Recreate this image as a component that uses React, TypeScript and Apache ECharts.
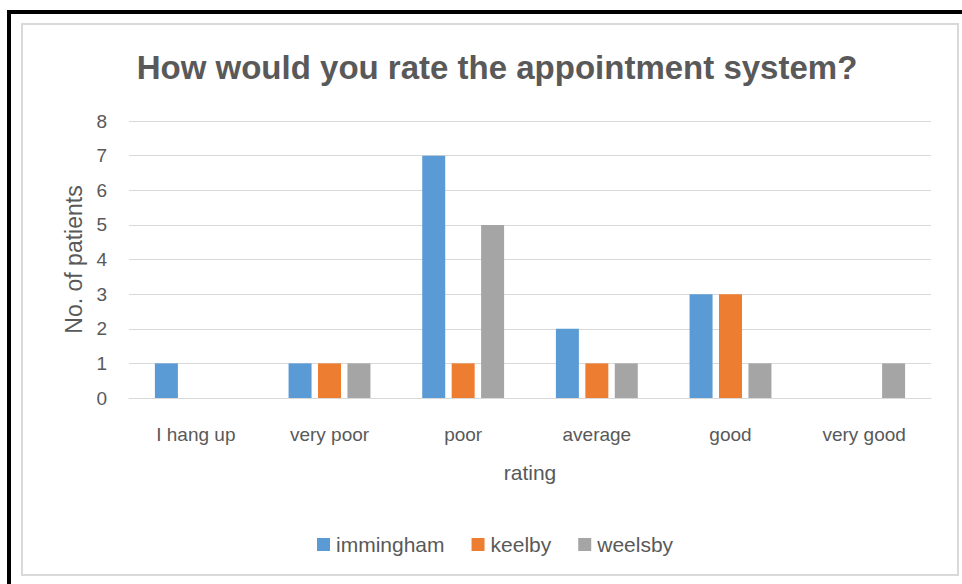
import React, { useEffect, useRef } from "react";
import * as echarts from "echarts";

const categories = ["I hang up", "very poor", "poor", "average", "good", "very good"];
const immingham = [1, 1, 7, 2, 3, null];
const keelby = [null, 1, 1, 1, 3, null];
const weelsby = [null, 1, 5, 1, 1, 1];
const seriesNames = ["immingham", "keelby", "weelsby"];
const colors = ["#5B9BD5", "#ED7D31", "#A5A5A5"];

const FONT = "'Liberation Sans', Arial, sans-serif";
const TEXT = "#595959";

export default function App() {
  const ref = useRef<HTMLDivElement>(null);
  useEffect(() => {
    if (!ref.current) return;
    const chart = echarts.init(ref.current, undefined, { renderer: "svg" });
    const data = [immingham, keelby, weelsby];
    chart.setOption({
      animation: false,
      backgroundColor: "#ffffff",
      textStyle: { fontFamily: FONT, color: TEXT },
      title: {
        text: "How would you rate the appointment system?",
        left: 492,
        textAlign: "center",
        top: 46,
        textStyle: { fontFamily: FONT, fontSize: 33, fontWeight: "bold", color: TEXT },
      },
      graphic: [
        { type: "rect", shape: { x: 22, y: 24, width: 936, height: 551 }, style: { fill: "none", stroke: "#D9D9D9", lineWidth: 2 }, silent: true },
        { type: "rect", shape: { x: 7, y: 10, width: 955, height: 4 }, style: { fill: "#000000" }, silent: true },
        { type: "rect", shape: { x: 7, y: 10, width: 4, height: 574 }, style: { fill: "#000000" }, silent: true },
      ],
      legend: {
        data: seriesNames,
        left: 312,
        top: 529,
        itemWidth: 13,
        itemHeight: 13,
        itemGap: 27,
        icon: "rect",
        textStyle: { fontFamily: FONT, fontSize: 21, color: TEXT, padding: [0, 0, 0, 1] },
      },
      grid: { left: 129, right: 31, top: 121, bottom: 186, containLabel: false },
      xAxis: {
        type: "category",
        data: categories,
        name: "rating",
        nameLocation: "middle",
        nameGap: 64,
        nameTextStyle: { fontFamily: FONT, fontSize: 21, color: TEXT },
        axisLine: { show: true, lineStyle: { color: "#D9D9D9", width: 1 } },
        axisTick: { show: false },
        axisLabel: { fontFamily: FONT, fontSize: 19, color: TEXT, margin: 27 },
      },
      yAxis: {
        type: "value",
        min: 0,
        max: 8,
        interval: 1,
        name: "No. of patients",
        nameLocation: "middle",
        nameGap: 44,
        nameTextStyle: { fontFamily: FONT, fontSize: 23, color: TEXT },
        axisLine: { show: false },
        axisTick: { show: false },
        axisLabel: { fontFamily: FONT, fontSize: 19, color: TEXT, margin: 22 },
        splitLine: { lineStyle: { color: "#D9D9D9", width: 1 } },
      },
      series: seriesNames.map((name, i) => ({
        name,
        type: "bar",
        data: data[i],
        barWidth: 23,
        barGap: "28%",
        itemStyle: { color: colors[i] },
      })),
    });
    return () => chart.dispose();
  }, []);
  return <div ref={ref} style={{ position: "fixed", left: 0, top: 0, width: 962, height: 584 }} />;
}
